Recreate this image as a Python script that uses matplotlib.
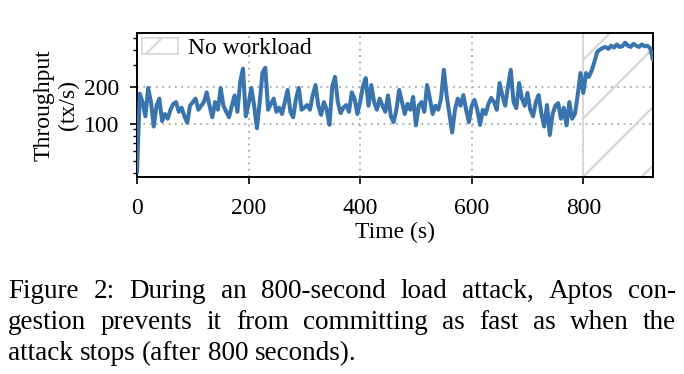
import numpy as np
import matplotlib
matplotlib.use("Agg")
import matplotlib.pyplot as plt
from matplotlib.patches import Patch
from matplotlib.ticker import FixedLocator, LogLocator, NullFormatter, FixedFormatter

plt.rcParams['font.family'] = ['Liberation Serif', 'DejaVu Serif']

time_step = 5
throughput = [
    40, 175, 150, 115, 195, 150, 95, 140, 160, 105,
    120, 110, 130, 145, 150, 125, 135, 115, 102, 140,
    150, 160, 130, 140, 150, 180, 140, 113, 150, 130,
    195, 140, 125, 113, 140, 170, 125, 220, 280, 115,
    145, 195, 140, 92, 150, 260, 285, 130, 145, 160,
    125, 135, 120, 150, 188, 125, 113, 160, 195, 130,
    135, 142, 130, 170, 206, 140, 118, 150, 130, 98,
    200, 240, 150, 122, 135, 142, 125, 180, 160, 120,
    150, 200, 235, 140, 206, 150, 130, 160, 140, 125,
    170, 115, 103, 130, 188, 150, 120, 145, 130, 165,
    97, 140, 150, 125, 206, 160, 120, 140, 130, 160,
    274, 170, 120, 85, 130, 160, 140, 171, 130, 103,
    140, 156, 130, 98, 130, 120, 145, 162, 150, 130,
    214, 170, 140, 200, 274, 150, 134, 214, 160, 140,
    178, 130, 115, 150, 171, 120, 95, 142, 81, 120,
    140, 147, 110, 135, 97, 150, 110, 120, 171, 258,
    178, 258, 240, 270, 318, 383, 400, 413, 420, 405,
    430, 415, 440, 420, 425, 455, 430, 420, 445, 430,
    420, 440, 425, 430, 410, 330,
]
time_s = np.arange(len(throughput)) * time_step

attack_end = 800
x_ticks = [0, 200, 400, 600, 800]
y_ticks = [100, 200]
y_tick_labels = ["100", "200"]
legend_label = "No workload"
x_label = "Time (s)"
y_label = "Throughput\n(tx/s)"
caption = [
    "Figure 2:  During an 800-second load attack, Aptos con-",
    "gestion prevents it from committing as fast as when the",
    "attack stops (after 800 seconds).",
]

FW, FH = 6.84, 3.74
fig = plt.figure(figsize=(FW, FH), dpi=100)
pos = [137 / 684, 1 - 177 / 374, (653 - 137) / 684, (177 - 33) / 374]
ax = fig.add_axes(pos)

line_color = '#3a74ae'
hatch_color = '#d6d6d6'
FS = 17

xmax = time_s[-1]
ax.set_xlim(0, xmax)
ax.set_yscale('log')
ax.set_ylim(37, 545)

# no-workload region
span = ax.axvspan(attack_end, xmax, facecolor='none', edgecolor=hatch_color, lw=1.2, zorder=1)
W = FW * 100 * pos[2]
H = FH * 100 * pos[3]
for c in np.arange(446 - 58.5 * 8, 446 + 58.5 * 3, 58.5):
    xs = np.array([0.0, 1.0])
    ys = (xs * W - c) / H
    ln, = ax.plot(xs, ys, transform=ax.transAxes, color=hatch_color, lw=1.6, zorder=1)
    ln.set_clip_path(span)

ax.plot(time_s, throughput, color=line_color, lw=2.9, zorder=3,
        solid_joinstyle='round', solid_capstyle='round')

ax.xaxis.set_major_locator(FixedLocator(x_ticks))
ax.yaxis.set_major_locator(FixedLocator(y_ticks))
ax.yaxis.set_major_formatter(FixedFormatter(y_tick_labels))
ax.yaxis.set_minor_locator(LogLocator(base=10, subs=np.arange(2, 10)))
ax.yaxis.set_minor_formatter(NullFormatter())

ax.grid(True, which='major', linestyle=(0, (1, 2.5)), color='#aaaaaa', lw=1.3, zorder=0)
ax.tick_params(axis='both', which='major', labelsize=FS, length=5, width=1.2, direction='out')
ax.tick_params(axis='x', which='major', pad=10)
ax.tick_params(axis='y', which='major', pad=7.5)
ax.tick_params(axis='y', which='minor', length=3, width=1.0)
for s in ax.spines.values():
    s.set_linewidth(1.4)
ax.set_axisbelow(True)

ax.set_xlabel(x_label, fontsize=FS, labelpad=2.5)
ax.set_ylabel(y_label, fontsize=FS, labelpad=4, linespacing=1.2)

plt.rcParams['hatch.color'] = hatch_color
plt.rcParams['hatch.linewidth'] = 1.5
handle = Patch(facecolor='none', edgecolor=hatch_color, hatch='/', lw=1.2)
ax.legend([handle], [legend_label], loc='upper left', frameon=False, fontsize=FS,
          borderaxespad=0.15, handlelength=1.55, handleheight=0.7, handletextpad=0.4,
          borderpad=0.05)

# justified caption
renderer = fig.canvas.get_renderer()
left_px, right_px = 8, 676
cap_fs = 19.5
probe1 = fig.text(0, 0, 'a a', fontsize=cap_fs)
probe2 = fig.text(0, 0, 'aa', fontsize=cap_fs)
space_w = probe1.get_window_extent(renderer).width - probe2.get_window_extent(renderer).width
probe1.remove()
probe2.remove()
for i, line in enumerate(caption):
    y = 1 - (291 + 31.3 * i) / 374
    words = line.split()
    texts = [fig.text(0, y, w, fontsize=cap_fs, va='center', ha='left') for w in words]
    widths = [t.get_window_extent(renderer).width for t in texts]
    if i < len(caption) - 1:
        gap = (right_px - left_px - sum(widths)) / (len(words) - 1)
    else:
        gap = space_w
    x = left_px
    for t, w in zip(texts, widths):
        t.set_x(x / (FW * 100))
        x += w + gap

fig.savefig('out.png', dpi=100)
